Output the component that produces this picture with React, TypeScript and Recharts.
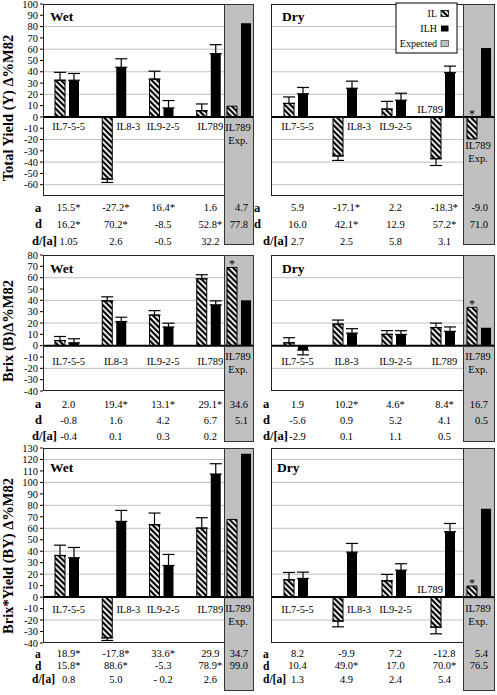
import React from 'react';
import {
  ComposedChart, Bar, XAxis, YAxis, ErrorBar, ReferenceLine, LabelList, CartesianGrid,
} from 'recharts';

const FONT = '"Liberation Serif", "Times New Roman", Times, serif';
const PAD_TOP = 6;
const TABLE_H = 52;

const categories = ['IL7-5-5', 'IL8-3', 'IL9-2-5', 'IL789'];

// Total yield (Y), wet
const yWetIL = [32.5, -55, 33.5, 5.5];
const yWetILErr = [7, 3, 7, 6];
const yWetILH = [32.5, 44, 8, 56];
const yWetILHErr = [6, 7.5, 6.5, 8];
const yWetExp = [9.5, 83];
const yWetA = ['15.5*', '-27.2*', '16.4*', '1.6', '4.7'];
const yWetD = ['16.2*', '70.2*', '-8.5', '52.8*', '77.8'];
const yWetDA = ['1.05', '2.6', '-0.5', '32.2'];

// Total yield (Y), dry
const yDryIL = [12, -34.5, 7, -37];
const yDryILErr = [5.7, 4, 6.8, 6];
const yDryILH = [20.5, 25.4, 14.8, 39.3];
const yDryILHErr = [5.6, 6.3, 6.2, 5.7];
const yDryExp = [-19.5, 61];
const yDryA = ['5.9', '-17.1*', '2.2', '-18.3*', '-9.0'];
const yDryD = ['16.0', '42.1*', '12.9', '57.2*', '71.0'];
const yDryDA = ['2.7', '2.5', '5.8', '3.1'];

// Brix (B), wet
const bWetIL = [4.5, 39.5, 27, 59];
const bWetILErr = [3.6, 3.6, 3.9, 3.6];
const bWetILH = [2.5, 21.3, 16.5, 36];
const bWetILHErr = [3.6, 3.8, 3.3, 3.5];
const bWetExp = [69, 40];
const bWetA = ['2.0', '19.4*', '13.1*', '29.1*', '34.6'];
const bWetD = ['-0.8', '1.6', '4.2', '6.7', '5.1'];
const bWetDA = ['-0.4', '0.1', '0.3', '0.2'];

// Brix (B), dry
const bDryIL = [2.5, 19, 10, 16];
const bDryILErr = [4.5, 3.6, 3.3, 3.9];
const bDryILH = [-3.9, 11.1, 9.9, 12.6];
const bDryILHErr = [4.2, 3.9, 3.3, 3.9];
const bDryExp = [33.8, 15.8];
const bDryA = ['1.9', '10.2*', '4.6*', '8.4*', '16.7'];
const bDryD = ['-5.6', '0.9', '5.2', '4.1', '0.5'];
const bDryDA = ['-2.9', '0.1', '1.1', '0.5'];

// Brix*Yield (BY), wet
const byWetIL = [36.3, -35.5, 63.1, 60.2];
const byWetILErr = [9, 2.3, 10.2, 9];
const byWetILH = [34.3, 66, 27.6, 107.3];
const byWetILHErr = [9, 9.6, 9.6, 9];
const byWetExp = [67.7, 125];
const byWetA = ['18.9*', '-17.8*', '33.6*', '29.9', '34.7'];
const byWetD = ['15.8*', '88.6*', '-5.3', '78.9*', '99.0'];
const byWetDA = ['0.8', '5.0', '- 0.2', '2.6'];

// Brix*Yield (BY), dry
const byDryIL = [15.1, -20.9, 14.2, -26.2];
const byDryILErr = [6.4, 5, 5.6, 5.8];
const byDryILH = [16.3, 39.2, 23.5, 57];
const byDryILHErr = [5.5, 7.6, 5.6, 7.2];
const byDryExp = [9.6, 77];
const byDryA = ['8.2', '-9.9', '7.2', '-12.8', '5.4'];
const byDryD = ['10.4', '49.0*', '17.0', '70.0*', '76.5'];
const byDryDA = ['1.3', '4.9', '2.4', '5.4'];

const yieldTicks = [100, 90, 80, 70, 60, 50, 40, 30, 20, 10, 0, -10, -20, -30, -40, -50, -60];
const yieldGrid = [80, 60, 40, 20, -20, -40, -60];
const brixTicks = [80, 70, 60, 50, 40, 30, 20, 10, 0, -10, -20, -30, -40];
const brixGrid = [60, 40, 20, -20];
const byTicks = [130, 120, 110, 100, 90, 80, 70, 60, 50, 40, 30, 20, 10, 0, -10, -20, -30, -40];
const byGrid = [120, 100, 80, 60, 40, 20, -20];

const ROWS = [
  { plotTop: 4, plotBottom: 196, min: -70, max: 100, ticks: yieldTicks, grid: yieldGrid, tableDy: [11.5, 28, 45], rowFont: 12.5, labelDy: 10, greyBottom: 245, yLabel: 'Total Yield (Y) Δ%M82', yLabelY: 108 },
  { plotTop: 255, plotBottom: 391, min: -40, max: 80, ticks: brixTicks, grid: brixGrid, tableDy: [13, 29, 45], rowFont: 12.5, labelDy: 16, greyBottom: 442, yLabel: 'Brix (B)Δ%M82', yLabelY: 331 },
  { plotTop: 448, plotBottom: 643, min: -40, max: 130, ticks: byTicks, grid: byGrid, tableDy: [10.5, 22.5, 36], rowFont: 11.5, labelDy: 12, greyBottom: 691, yLabel: 'Brix*Yield (BY) Δ%M82', yLabelY: 556 },
];

const COLS = [
  { svgLeft: 0, width: 254, marginLeft: 0, yAxis: true, plotLeft: 43, plotRight: 254, padRight: 22, greyLeft: 224, greyRight: 254 },
  { svgLeft: 250, width: 245, marginLeft: 21, yAxis: false, plotLeft: 271, plotRight: 495, padRight: 28, greyLeft: 463, greyRight: 495 },
];

const PANELS = [
  { row: 0, col: 0, title: 'Wet', titleX: 50, titleY: 16, il: yWetIL, ilErr: yWetILErr, ilh: yWetILH, ilhErr: yWetILHErr, exp: yWetExp, a: yWetA, d: yWetD, da: yWetDA, modes: ['below', 'right', 'below', 'below'], star: false, rowLabelX: [35, 35, 32] },
  { row: 0, col: 1, title: 'Dry', titleX: 282, titleY: 16, il: yDryIL, ilErr: yDryILErr, ilh: yDryILH, ilhErr: yDryILHErr, exp: yDryExp, a: yDryA, d: yDryD, da: yDryDA, modes: ['below', 'right', 'below', 'above'], star: true, rowLabelX: [254, 254, 263] },
  { row: 1, col: 0, title: 'Wet', titleX: 50, titleY: 268, il: bWetIL, ilErr: bWetILErr, ilh: bWetILH, ilhErr: bWetILHErr, exp: bWetExp, a: bWetA, d: bWetD, da: bWetDA, modes: ['below', 'below', 'below', 'below'], star: true, rowLabelX: [35, 35, 32] },
  { row: 1, col: 1, title: 'Dry', titleX: 282, titleY: 268, il: bDryIL, ilErr: bDryILErr, ilh: bDryILH, ilhErr: bDryILHErr, exp: bDryExp, a: bDryA, d: bDryD, da: bDryDA, modes: ['below', 'below', 'below', 'below'], star: true, rowLabelX: [263, 263, 263] },
  { row: 2, col: 0, title: 'Wet', titleX: 50, titleY: 467, il: byWetIL, ilErr: byWetILErr, ilh: byWetILH, ilhErr: byWetILHErr, exp: byWetExp, a: byWetA, d: byWetD, da: byWetDA, modes: ['below', 'right', 'below', 'below'], star: false, rowLabelX: [35, 35, 32] },
  { row: 2, col: 1, title: 'Dry', titleX: 277, titleY: 467, il: byDryIL, ilErr: byDryILErr, ilh: byDryILH, ilhErr: byDryILHErr, exp: byDryExp, a: byDryA, d: byDryD, da: byDryDA, modes: ['below', 'right', 'below', 'above'], star: true, rowLabelX: [263, 263, 263] },
];

const rowNames = ['a', 'd', 'd/[a]'];

const errRange = (v: number, e: number) => (v < 0 ? [e, 0] : [0, e]);

const renderStar = (props: any) => {
  if (!props.value) return null;
  const vb = props.viewBox || {};
  const x = vb.x ?? props.x;
  const y = vb.y ?? props.y;
  const w = vb.width ?? props.width;
  const h = vb.height ?? props.height;
  const top = Math.min(y, y + h);
  return (
    <text x={x + w / 2} y={top + 1} textAnchor="middle" fontSize={12} fontFamily={FONT} fill="#000">*</text>
  );
};

function Panel({ p }: { p: any }) {
  const row = ROWS[p.row];
  const col = COLS[p.col];
  const plotH = row.plotBottom - row.plotTop;
  const svgTop = row.plotTop - PAD_TOP;
  const svgH = PAD_TOP + plotH + TABLE_H;
  const bottom = PAD_TOP + plotH;
  const zeroY = PAD_TOP + (row.max / (row.max - row.min)) * plotH;
  const ppu = plotH / (row.max - row.min);

  const data = categories.map((name, i) => ({
    name,
    il: p.il[i],
    ilh: p.ilh[i],
    ilErr: errRange(p.il[i], p.ilErr[i]),
    ilhErr: errRange(p.ilh[i], p.ilhErr[i]),
    a: p.a[i],
    d: p.d[i],
    da: p.da[i],
  }));
  const expData = [{ name: 'IL789 Exp.', il: p.exp[0], ilh: p.exp[1], a: p.a[4], d: p.d[4], star: p.star ? '*' : '' }];

  const mainTick = (props: any) => {
    const { x, index } = props;
    const r = data[index];
    if (!r) return <g />;
    const mode = p.modes[index];
    let label;
    if (mode === 'right') {
      label = <text x={x + 2.5} y={zeroY + row.labelDy} textAnchor="start" dominantBaseline="central">{r.name}</text>;
    } else if (mode === 'above') {
      label = <text x={x + 0.5} y={zeroY - 7.5} textAnchor="end" dominantBaseline="central">{r.name}</text>;
    } else {
      label = <text x={x + 2} y={zeroY + row.labelDy} textAnchor="middle" dominantBaseline="central">{r.name}</text>;
    }
    const vals = [r.a, r.d, r.da];
    return (
      <g fontFamily={FONT} fontSize={10.5} fill="#000">
        {label}
        {vals.map((v, k) => (
          <text key={k} x={x + 2} y={bottom + row.tableDy[k]} textAnchor="middle" dominantBaseline="central">{v}</text>
        ))}
        {index === 0 && rowNames.map((n, k) => (
          <text key={n} x={p.rowLabelX[k] - col.svgLeft} y={bottom + row.tableDy[k]} dominantBaseline="central" fontWeight="bold" fontSize={row.rowFont}>{n}</text>
        ))}
      </g>
    );
  };

  const expTick = (props: any) => {
    const { x } = props;
    const r = expData[0];
    const base = r.il < 0 ? zeroY + -r.il * ppu + 7 : zeroY + 11;
    return (
      <g fontFamily={FONT} fontSize={10.5} fill="#000">
        <text x={x - 1} y={base} textAnchor="middle" dominantBaseline="central">IL789</text>
        <text x={x - 1} y={base + 13} textAnchor="middle" dominantBaseline="central">Exp.</text>
        <text x={x + 9} y={bottom + row.tableDy[0]} textAnchor="end" dominantBaseline="central">{r.a}</text>
        <text x={x + 9} y={bottom + row.tableDy[1]} textAnchor="end" dominantBaseline="central">{r.d}</text>
      </g>
    );
  };

  const greyW = col.greyRight - col.greyLeft;

  return (
    <>
      <div style={{ position: 'absolute', left: col.svgLeft, top: svgTop }}>
        <ComposedChart
          width={col.width}
          height={svgH}
          data={data}
          margin={{ top: PAD_TOP, right: col.svgLeft + col.width - col.plotRight, bottom: 0, left: col.marginLeft }}
          barSize={10}
          barGap={4}
        >
          <CartesianGrid horizontal vertical={false} horizontalValues={row.grid} stroke="#bfbfbf" strokeDasharray="" />
          <XAxis
            dataKey="name"
            type="category"
            height={TABLE_H}
            axisLine={false}
            tickLine={false}
            tickSize={0}
            tickMargin={0}
            interval={0}
            padding={{ left: 0, right: col.padRight }}
            tick={mainTick}
          />
          <YAxis
            type="number"
            domain={[row.min, row.max]}
            allowDataOverflow
            ticks={row.ticks}
            interval={0}
            hide={!col.yAxis}
            width={43}
            axisLine={false}
            tickLine={{ stroke: '#000' }}
            tickSize={3}
            tickMargin={2}
            tick={{ fontSize: 10.5, fill: '#000', fontFamily: FONT }}
          />
          <ReferenceLine y={0} stroke="#000" strokeWidth={2} />
          <Bar dataKey="il" fill="url(#hatch)" stroke="#000" strokeWidth={1} barSize={10} isAnimationActive={false}>
            <ErrorBar dataKey="ilErr" width={6} stroke="#000" strokeWidth={1.2} direction="y" />
          </Bar>
          <Bar dataKey="ilh" fill="#000" barSize={10} isAnimationActive={false}>
            <ErrorBar dataKey="ilhErr" width={6} stroke="#000" strokeWidth={1.2} direction="y" />
          </Bar>
        </ComposedChart>
      </div>
      <div style={{ position: 'absolute', left: col.greyLeft, top: row.plotTop, width: greyW, height: row.greyBottom - row.plotTop, background: '#c0c0c0' }} />
      <div style={{ position: 'absolute', left: col.greyLeft, top: svgTop }}>
        <ComposedChart
          width={greyW}
          height={svgH}
          data={expData}
          margin={{ top: PAD_TOP, right: 0, bottom: 0, left: 0 }}
          barSize={10}
          barGap={4}
        >
          <XAxis dataKey="name" type="category" height={TABLE_H} axisLine={false} tickLine={false} tickSize={0} tickMargin={0} interval={0} tick={expTick} />
          <YAxis type="number" hide domain={[row.min, row.max]} allowDataOverflow />
          <ReferenceLine y={0} stroke="#000" strokeWidth={2} />
          <Bar dataKey="il" fill="url(#hatch)" stroke="#000" strokeWidth={1} barSize={10} isAnimationActive={false}>
            <LabelList dataKey="star" content={renderStar} />
          </Bar>
          <Bar dataKey="ilh" fill="#000" barSize={10} isAnimationActive={false} />
        </ComposedChart>
      </div>
      <div style={{ position: 'absolute', left: col.plotLeft, top: row.plotTop, width: col.greyLeft - col.plotLeft + 1, height: plotH, border: '1.5px solid #222', boxSizing: 'border-box', pointerEvents: 'none' }} />
      <div style={{ position: 'absolute', left: col.greyLeft, top: row.plotTop, width: greyW, height: row.greyBottom - row.plotTop, border: '1.5px solid #333', boxSizing: 'border-box', pointerEvents: 'none' }} />
    </>
  );
}

export default function App() {
  return (
    <div style={{ position: 'absolute', left: 0, top: 0, width: 497, height: 695, background: '#fff', fontFamily: FONT, overflow: 'hidden' }}>
      <svg width={0} height={0} style={{ position: 'absolute' }}>
        <defs>
          <pattern id="hatch" width={4} height={4} patternUnits="userSpaceOnUse" patternTransform="rotate(-45)">
            <rect width={4} height={4} fill="#fff" />
            <rect width={2.2} height={4} fill="#000" />
          </pattern>
        </defs>
      </svg>
      {PANELS.map((p, i) => <Panel key={i} p={p} />)}
      <svg width={497} height={695} style={{ position: 'absolute', left: 0, top: 0, pointerEvents: 'none' }} fontFamily={FONT}>
        {PANELS.map((p, i) => (
          <text key={i} x={p.titleX} y={p.titleY} dominantBaseline="central" fontWeight="bold" fontSize={13.5}>{p.title}</text>
        ))}
        {ROWS.map((r, i) => (
          <text key={i} transform={`translate(8, ${r.yLabelY}) rotate(-90)`} textAnchor="middle" dominantBaseline="central" fontWeight="bold" fontSize={14.5}>{r.yLabel}</text>
        ))}
        <g fontSize={10}>
          <rect x={396} y={3} width={61} height={50} fill="#fff" stroke="#000" strokeWidth={1} />
          <text x={437} y={13.5} textAnchor="end" dominantBaseline="central">IL</text>
          <rect x={441} y={10.5} width={7.5} height={6} fill="url(#hatch)" stroke="#000" strokeWidth={0.8} />
          <text x={437} y={28.5} textAnchor="end" dominantBaseline="central">ILH</text>
          <rect x={441} y={25.5} width={7.5} height={6} fill="#000" />
          <text x={437} y={43.5} textAnchor="end" dominantBaseline="central">Expected</text>
          <rect x={441} y={40.5} width={7.5} height={6} fill="#c0c0c0" stroke="#555" strokeWidth={0.8} />
        </g>
      </svg>
    </div>
  );
}
